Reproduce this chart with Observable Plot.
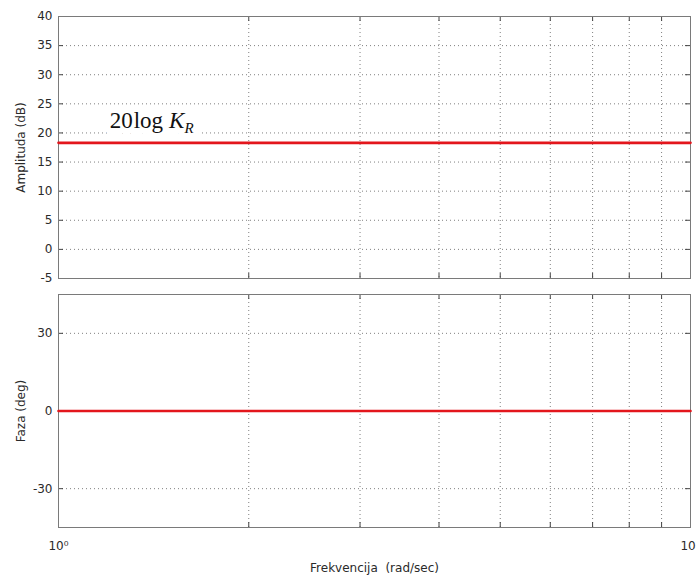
<!DOCTYPE html>
<html><head><meta charset="utf-8">
<script src="https://cdn.jsdelivr.net/npm/d3@7"></script>
<script src="https://cdn.jsdelivr.net/npm/@observablehq/plot@0.6"></script>
<style>
body{margin:0;background:#fff;}
#chart{position:relative;width:696px;height:578px;overflow:hidden;background:#fff;}
#chart svg{display:block;}
</style></head><body><div id="chart"></div>
<script>
// ---- data ----
const freq = [1, 10];                 // rad/sec
const amplitudeDb = [18.3, 18.3];     // dB
const phaseDeg = [0, 0];              // deg
const amplitudeTicks = [-5, 0, 5, 10, 15, 20, 25, 30, 35, 40];
const phaseTicks = [-30, 0, 30];
const freqGrid = [2, 3, 4, 5, 6, 7, 8, 9];
const freqLabelTicks = [1, 10];
const freqTickLabels = ["10⁰", "10¹"];
const annotation = "20log K_R";

// ---- layout / style ----
const W = 696, ML = 58, MR = 6;
const innerW = W - ML - MR;
const TICK = 5;
const FONT = "'DejaVu Sans', sans-serif";
const gridStyle = {stroke: "#000", strokeOpacity: 0.5, strokeDasharray: "1,3"};
const tickColor = "#444";
const frameColor = "#7a7a7a";
const red = "#e3161c";

const amp = freq.map((f, i) => ({f, v: amplitudeDb[i]}));
const ph = freq.map((f, i) => ({f, v: phaseDeg[i]}));

function innerTicks(yTicks, innerH) {
  return [
    Plot.tickY(yTicks, {y: d => d, stroke: tickColor, insetRight: innerW - TICK}),
    Plot.tickY(yTicks, {y: d => d, stroke: tickColor, insetLeft: innerW - TICK}),
    Plot.tickX(freqGrid, {x: d => d, stroke: tickColor, insetTop: innerH - TICK}),
    Plot.tickX(freqGrid, {x: d => d, stroke: tickColor, insetBottom: innerH - TICK})
  ];
}

function stripArrows(svg) {
  d3.select(svg).selectAll("text").each(function () {
    if (this.childElementCount === 0 && /[→↑]/.test(this.textContent)) {
      this.textContent = this.textContent.replace(/\s*[→↑]\s*/g, "");
    }
  });
}

// top panel
const topH = 286, topMT = 16, topMB = 8;
const topPlot = Plot.plot({
  width: W, height: topH,
  marginLeft: ML, marginRight: MR, marginTop: topMT, marginBottom: topMB,
  style: {fontFamily: FONT, fontSize: "12px", color: "#2a2a2a", background: "white"},
  x: {type: "log", domain: [1, 10], axis: null},
  y: {domain: [-5, 40]},
  marks: [
    Plot.gridX(freqGrid, gridStyle),
    Plot.gridY(amplitudeTicks, gridStyle),
    ...innerTicks(amplitudeTicks, topH - topMT - topMB),
    Plot.axisY(amplitudeTicks, {tickSize: 0, tickPadding: 6, tickFormat: d => String(d),
      label: "Amplituda (dB)", labelArrow: "none", labelAnchor: "center", labelOffset: 42}),
    Plot.text([annotation], {
      x: () => 1.205, y: () => amplitudeDb[0], dy: -15,
      textAnchor: "start", lineAnchor: "bottom",
      fontFamily: "'Liberation Serif', 'Times New Roman', serif", fontSize: 23,
      fill: "#111"
    }),
    Plot.frame({stroke: frameColor}),
    Plot.lineY(amp, {x: "f", y: "v", stroke: red, strokeWidth: 2.6})
  ]
});

// bottom panel
const botH = 292, botMT = 8, botMB = 51;
const botPlot = Plot.plot({
  width: W, height: botH,
  marginLeft: ML, marginRight: MR, marginTop: botMT, marginBottom: botMB,
  style: {fontFamily: FONT, fontSize: "12px", color: "#2a2a2a", background: "white", overflow: "visible"},
  x: {type: "log", domain: [1, 10]},
  y: {domain: [-45, 45]},
  marks: [
    Plot.gridX(freqGrid, gridStyle),
    Plot.gridY(phaseTicks, gridStyle),
    ...innerTicks(phaseTicks, botH - botMT - botMB),
    Plot.axisY(phaseTicks, {tickSize: 0, tickPadding: 6, tickFormat: d => String(d),
      label: "Faza (deg)", labelArrow: "none", labelAnchor: "center", labelOffset: 42}),
    Plot.axisX(freqLabelTicks, {
      tickSize: 0, tickPadding: 14,
      tickFormat: d => freqTickLabels[freqLabelTicks.indexOf(d)],
      label: "Frekvencija  (rad/sec)", labelArrow: "none", labelAnchor: "center", labelOffset: 44
    }),
    Plot.frame({stroke: frameColor}),
    Plot.lineY(ph, {x: "f", y: "v", stroke: red, strokeWidth: 2.6})
  ]
});

stripArrows(topPlot);
stripArrows(botPlot);

// rich text for the annotation: 20log K_R, with a white halo copy behind it
d3.select(topPlot).selectAll("text")
  .filter(function () { return this.textContent === annotation; })
  .each(function () {
    const t = d3.select(this);
    t.text(null);
    t.append("tspan").text("20");
    t.append("tspan").attr("dx", 1).text("log");
    t.append("tspan").attr("dx", 6).attr("font-style", "italic").text("K");
    t.append("tspan").attr("font-style", "italic").attr("font-size", 15).attr("dy", 5).text("R");
    const halo = this.cloneNode(true);
    halo.setAttribute("fill", "white");
    halo.setAttribute("stroke", "white");
    halo.setAttribute("stroke-width", "12");
    halo.setAttribute("stroke-linejoin", "round");
    halo.setAttribute("aria-hidden", "true");
    this.parentNode.insertBefore(halo, this);
  });

const chart = document.getElementById("chart");
topPlot.style.position = "absolute"; topPlot.style.left = "0px"; topPlot.style.top = "0px";
botPlot.style.position = "absolute"; botPlot.style.left = "0px"; botPlot.style.top = topH + "px";
chart.appendChild(topPlot);
chart.appendChild(botPlot);
</script>
</body></html>
